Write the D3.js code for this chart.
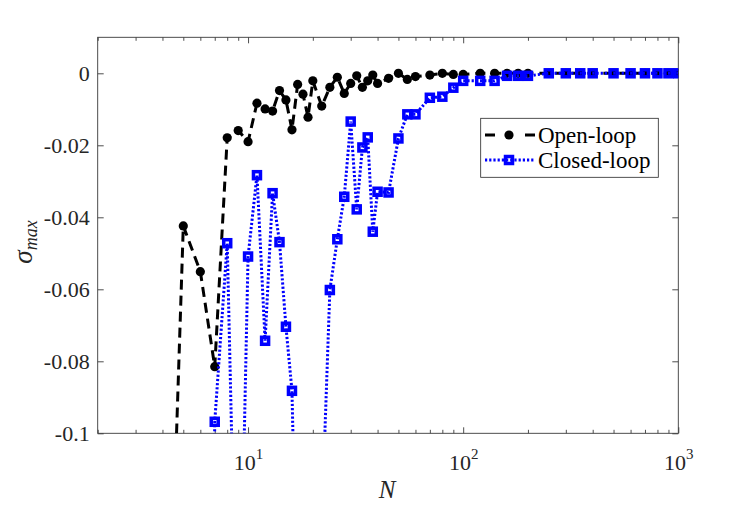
<!DOCTYPE html>
<html>
<head>
<meta charset="utf-8">
<script src="https://cdn.jsdelivr.net/npm/d3@7"></script>
<style>
  html, body { margin: 0; padding: 0; background: #fff; }
  svg { display: block; }
</style>
</head>
<body>
<svg id="chart" width="750" height="508" font-family="Liberation Serif"></svg>
<script>
// ---- data ----
const N = [4,5,6,7,8,9,10,11,12,13,14,15,16,17,18,19,20,22,24,26,28,30,32,34,36,38,40,45,50,55,60,70,80,90,100,120,140,160,180,200,250,300,350,400,500,600,700,800,900,1000];
const openLoop = [-0.22,-0.0424,-0.0551,-0.0815,-0.0179,-0.0159,-0.019,-0.0083,-0.0099,-0.0105,-0.0048,-0.0074,-0.0157,-0.0031,-0.0058,-0.0122,-0.0021,-0.0091,-0.0039,-0.0011,-0.0056,-0.0028,-0.0007,-0.0039,-0.0021,-0.0005,-0.0028,-0.0014,0,-0.0017,-0.0009,-0.0005,0,-0.0003,-0.0003,0,0,0,0,0,0,0,0,0,0,0,0,0,0,0];
const closedLoop = [-0.3,-0.4,-0.5,-0.0968,-0.0472,-0.18,-0.0509,-0.0283,-0.0743,-0.0333,-0.0469,-0.0704,-0.0882,-0.16,-0.14,-0.13,-0.13,-0.125,-0.0602,-0.0461,-0.0343,-0.0134,-0.0378,-0.0206,-0.0178,-0.044,-0.0329,-0.0331,-0.0181,-0.0114,-0.0114,-0.0068,-0.0065,-0.004,-0.0021,-0.0021,-0.0021,-0.0007,-0.0007,-0.0007,0,0,0,0,0,0,0,0,0,0];
const seriesNames = ["Open-loop", "Closed-loop"];
const xMajorTicks = [10, 100, 1000];
const xMajorExp = ["1", "2", "3"];
const xMinorTicks = [2,3,4,5,6,7,8,9,20,30,40,50,60,70,80,90,200,300,400,500,600,700,800,900];
const yTicks = [-0.1, -0.08, -0.06, -0.04, -0.02, 0];
const yTickLabels = ["-0.1", "-0.08", "-0.06", "-0.04", "-0.02", "0"];

// ---- layout ----
const FONT = "Liberation Serif";
const L = 97.7, R = 678.3, T = 37.3, B = 433.3;
const svg = d3.select("#chart");
const x = d3.scaleLog().domain([2, 1000]).range([L, R]);
const y = d3.scaleLinear().domain([-0.1, 0.01]).range([B, T]);
const axisColor = "#3a3a3a";
const textColor = "#262626";

svg.append("defs").append("clipPath").attr("id", "clip")
  .append("rect").attr("x", L).attr("y", T).attr("width", R - L).attr("height", B - T);

// ---- axes ----
function styleAxis(g) {
  g.attr("font-family", FONT);
  g.select(".domain").remove();
  g.selectAll(".tick line").attr("stroke", axisColor).attr("stroke-width", 0.9);
}
const gxMinor = svg.append("g").attr("transform", `translate(0,${B})`)
  .call(d3.axisBottom(x).tickValues(xMinorTicks).tickSize(-3.5).tickFormat(() => ""));
styleAxis(gxMinor);
const gxMajor = svg.append("g").attr("transform", `translate(0,${B})`)
  .call(d3.axisBottom(x).tickValues(xMajorTicks).tickSize(-6).tickFormat(() => ""));
styleAxis(gxMajor);
gxMajor.selectAll(".tick text").remove();
gxMajor.selectAll(".tick").each(function(d, i) {
  const t = d3.select(this).append("text")
    .attr("x", 0).attr("y", 37).attr("text-anchor", "middle")
    .attr("font-family", FONT).attr("font-size", 22).attr("fill", textColor);
  t.append("tspan").text("10");
  t.append("tspan").attr("font-size", 15).attr("dy", -11).text(xMajorExp[i]);
});
const gtMinor = svg.append("g").attr("transform", `translate(0,${T})`)
  .call(d3.axisTop(x).tickValues(xMinorTicks).tickSize(-3.5).tickFormat(() => ""));
styleAxis(gtMinor);
const gtMajor = svg.append("g").attr("transform", `translate(0,${T})`)
  .call(d3.axisTop(x).tickValues(xMajorTicks).tickSize(-6).tickFormat(() => ""));
styleAxis(gtMajor);

const gy = svg.append("g").attr("transform", `translate(${L},0)`)
  .call(d3.axisLeft(y).tickValues(yTicks).tickSize(-6).tickPadding(8)
    .tickFormat((d, i) => yTickLabels[i]));
styleAxis(gy);
gy.selectAll(".tick text").attr("font-size", 22).attr("fill", textColor)
  .attr("font-family", FONT);
const gr = svg.append("g").attr("transform", `translate(${R},0)`)
  .call(d3.axisRight(y).tickValues(yTicks).tickSize(-6).tickFormat(() => ""));
styleAxis(gr);

svg.append("rect").attr("x", L).attr("y", T).attr("width", R - L).attr("height", B - T)
  .attr("fill", "none").attr("stroke", axisColor).attr("stroke-width", 0.9);

// ---- data ----
const plot = svg.append("g").attr("clip-path", "url(#clip)");
const line = d3.line().x((d, i) => x(N[i])).y(d => y(d));

plot.append("path").datum(openLoop).attr("d", line)
  .attr("fill", "none").attr("stroke", "#000").attr("stroke-width", 3)
  .attr("stroke-dasharray", "10,6");
plot.selectAll("circle.open").data(openLoop).join("circle")
  .attr("class", "open")
  .attr("cx", (d, i) => x(N[i])).attr("cy", d => y(d)).attr("r", 4.6)
  .attr("fill", "#000");

plot.append("path").datum(closedLoop).attr("d", line)
  .attr("fill", "none").attr("stroke", "#0000ff").attr("stroke-width", 3)
  .attr("stroke-dasharray", "2.2,2");
const sq = 7;
plot.selectAll("rect.closed").data(closedLoop).join("rect")
  .attr("class", "closed")
  .attr("x", (d, i) => x(N[i]) - sq / 2).attr("y", d => y(d) - sq / 2)
  .attr("width", sq).attr("height", sq)
  .attr("fill", "none").attr("stroke", "#0000ff").attr("stroke-width", 3.5);

// ---- axis labels ----
svg.append("text").attr("x", 387).attr("y", 498).attr("text-anchor", "middle")
  .attr("font-family", FONT).attr("font-size", 25).attr("font-style", "italic")
  .attr("fill", textColor).text("N");
const yl = svg.append("text").attr("transform", "translate(32,242) rotate(-90)")
  .attr("text-anchor", "middle").attr("font-family", FONT).attr("font-style", "italic")
  .attr("fill", textColor);
yl.append("tspan").attr("font-size", 27).text("σ");
yl.append("tspan").attr("font-size", 18).attr("dy", 5).text("max");

// ---- legend ----
const lg = svg.append("g");
lg.append("rect").attr("x", 480.7).attr("y", 118.3).attr("width", 177.6).attr("height", 59)
  .attr("fill", "#fff").attr("stroke", "#262626").attr("stroke-width", 0.8);
const ly = [135, 160];
lg.append("line").attr("x1", 485).attr("x2", 535).attr("y1", ly[0]).attr("y2", ly[0])
  .attr("stroke", "#000").attr("stroke-width", 3).attr("stroke-dasharray", "10,30,10");
lg.append("circle").attr("cx", 509).attr("cy", ly[0]).attr("r", 4.6).attr("fill", "#000");
lg.append("line").attr("x1", 485).attr("x2", 535).attr("y1", ly[1]).attr("y2", ly[1])
  .attr("stroke", "#0000ff").attr("stroke-width", 3).attr("stroke-dasharray", "2.2,2");
lg.append("rect").attr("x", 509 - sq / 2).attr("y", ly[1] - sq / 2).attr("width", sq).attr("height", sq)
  .attr("fill", "none").attr("stroke", "#0000ff").attr("stroke-width", 3.5);
seriesNames.forEach((s, i) => {
  lg.append("text").attr("x", 538).attr("y", ly[i] + 8).attr("font-family", FONT)
    .attr("font-size", 23).attr("fill", "#000").text(s);
});
</script>
</body>
</html>
